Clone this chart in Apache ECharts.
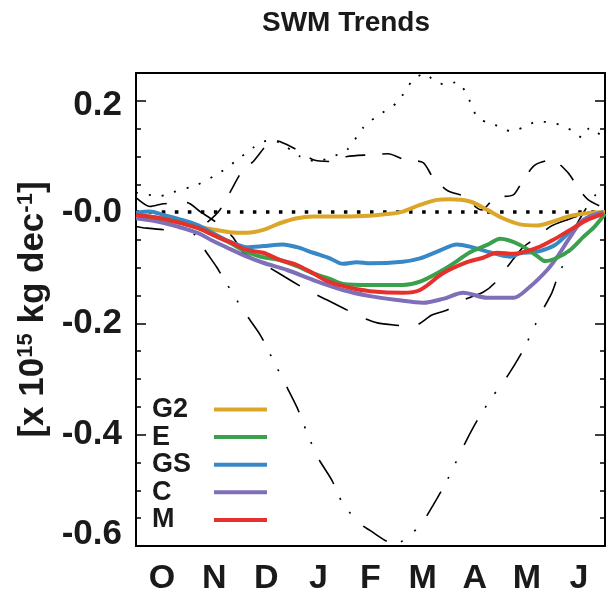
<!DOCTYPE html>
<html>
<head>
<meta charset="utf-8">
<title>SWM Trends</title>
<script src="https://cdn.jsdelivr.net/npm/echarts@6/dist/echarts.min.js"></script>
<style>
  html, body { margin: 0; padding: 0; background: #fff; }
  #chart { width: 608px; height: 596px; }
</style>
</head>
<body>
<div id="chart"></div>
<script>
// month labels (one band per month, Oct..Jun)
const months = ["O", "N", "D", "J", "F", "M", "A", "M", "J"];

// y tick labels
const yTicks = [-0.6, -0.4, -0.2, 0.0, 0.2];

// model trends: [month position, value]
const g2 = [[0,-0.008],[0.52,-0.012],[1.17,-0.026],[1.8,-0.036],[2.13,-0.037],[2.44,-0.032],[2.76,-0.020],[3.09,-0.011],[3.4,-0.008],[3.72,-0.008],[4.36,-0.007],[4.87,-0.003],[5.12,0.001],[5.45,0.013],[5.78,0.022],[6.02,0.023],[6.41,0.019],[6.74,0.004],[7.04,-0.011],[7.37,-0.022],[7.7,-0.024],[8.0,-0.017],[8.33,-0.007],[8.66,-0.002],[9,0.0]];
const e = [[0,-0.005],[0.52,-0.012],[1.17,-0.028],[1.48,-0.041],[1.8,-0.055],[2.13,-0.072],[2.44,-0.081],[2.76,-0.086],[3.09,-0.097],[3.4,-0.110],[3.72,-0.120],[3.97,-0.129],[4.49,-0.131],[5.12,-0.131],[5.45,-0.125],[5.89,-0.104],[6.16,-0.088],[6.41,-0.072],[6.74,-0.059],[6.99,-0.048],[7.37,-0.059],[7.7,-0.079],[7.85,-0.088],[8.08,-0.082],[8.33,-0.068],[8.58,-0.045],[8.81,-0.025],[9,-0.003]];
const gs = [[0,-0.001],[0.27,0.001],[0.52,-0.005],[0.84,-0.013],[1.17,-0.023],[1.48,-0.038],[1.8,-0.053],[2.13,-0.063],[2.44,-0.061],[2.82,-0.058],[3.09,-0.063],[3.4,-0.073],[3.72,-0.083],[3.97,-0.093],[4.24,-0.090],[4.49,-0.092],[5.12,-0.089],[5.45,-0.083],[5.78,-0.071],[6.16,-0.058],[6.41,-0.062],[6.74,-0.071],[7.18,-0.080],[7.37,-0.074],[7.7,-0.071],[8.04,-0.059],[8.33,-0.035],[8.66,-0.010],[8.97,0.0]];
const c = [[0,-0.011],[0.52,-0.019],[1.17,-0.037],[1.48,-0.052],[1.8,-0.066],[2.13,-0.080],[2.44,-0.091],[2.9,-0.104],[3.4,-0.122],[3.97,-0.140],[4.49,-0.151],[5.01,-0.158],[5.51,-0.163],[5.89,-0.156],[6.28,-0.145],[6.74,-0.154],[7.24,-0.154],[7.56,-0.134],[7.89,-0.104],[8.08,-0.081],[8.33,-0.045],[8.58,-0.014],[8.97,-0.001]];
const m = [[0,-0.005],[0.52,-0.012],[1.17,-0.028],[1.48,-0.041],[1.8,-0.054],[2.13,-0.068],[2.44,-0.073],[2.76,-0.086],[3.09,-0.095],[3.4,-0.110],[3.72,-0.126],[4.11,-0.136],[4.49,-0.142],[5.12,-0.145],[5.45,-0.140],[5.89,-0.110],[6.35,-0.090],[6.66,-0.082],[6.93,-0.073],[7.24,-0.075],[7.7,-0.064],[8.0,-0.050],[8.33,-0.032],[8.66,-0.014],[8.97,-0.003]];

// black reference curves
const obsMax = [[0,0.035],[0.46,0.029],[0.71,0.036],[1.17,0.049],[1.61,0.071],[2.0,0.098],[2.25,0.116],[2.51,0.128],[2.76,0.125],[3.15,0.100],[3.47,0.091],[3.72,0.098],[4.05,0.112],[4.36,0.152],[4.59,0.170],[5.01,0.197],[5.32,0.238],[5.55,0.249],[5.74,0.234],[5.97,0.229],[6.16,0.234],[6.35,0.211],[6.55,0.170],[6.74,0.161],[7.04,0.152],[7.18,0.145],[7.43,0.152],[7.70,0.163],[7.95,0.161],[8.20,0.155],[8.39,0.145],[8.56,0.134],[8.71,0.152],[8.91,0.139],[9,0.135]];
const obsHigh = [[0,-0.005],[0.52,-0.012],[0.98,-0.020],[1.23,-0.026],[1.36,-0.019],[1.61,0.004],[1.8,0.035],[2.05,0.076],[2.25,0.091],[2.48,0.118],[2.61,0.130],[2.76,0.127],[3.09,0.112],[3.4,0.094],[3.72,0.091],[4.05,0.100],[4.49,0.103],[4.84,0.105],[5.16,0.094],[5.51,0.089],[5.70,0.062],[5.99,0.038],[6.31,0.028],[6.51,0.010],[6.64,0.004],[6.89,0.026],[7.24,0.031],[7.43,0.058],[7.66,0.085],[7.98,0.094],[8.29,0.071],[8.48,0.044],[8.68,0.022],[8.97,0.008]];
const obsLow = [[0,0.026],[0.27,0.010],[0.52,0.015],[0.98,0.017],[1.23,0.001],[1.55,-0.019],[1.86,-0.045],[2.05,-0.072],[2.38,-0.090],[2.71,-0.108],[3.28,-0.140],[3.67,-0.158],[4.01,-0.174],[4.30,-0.188],[4.63,-0.199],[4.97,-0.203],[5.32,-0.205],[5.68,-0.185],[5.97,-0.176],[6.28,-0.158],[6.66,-0.144],[6.89,-0.127],[7.12,-0.099],[7.43,-0.063],[7.70,-0.045],[7.95,-0.026],[8.27,-0.014],[8.62,-0.003],[8.97,0.001]];
const obsMin = [[0,-0.026],[0.13,-0.028],[0.65,-0.032],[0.94,-0.028],[1.17,-0.045],[1.32,-0.068],[1.55,-0.099],[1.67,-0.118],[1.86,-0.147],[2.09,-0.181],[2.38,-0.220],[2.61,-0.262],[2.86,-0.308],[3.09,-0.351],[3.28,-0.396],[3.49,-0.441],[3.76,-0.482],[3.97,-0.524],[4.30,-0.560],[4.49,-0.572],[4.78,-0.590],[5.01,-0.596],[5.22,-0.582],[5.45,-0.564],[5.70,-0.527],[5.97,-0.482],[6.31,-0.416],[6.55,-0.374],[6.83,-0.333],[7.14,-0.293],[7.43,-0.248],[7.75,-0.185],[7.98,-0.145],[8.14,-0.104],[8.27,-0.086],[8.43,-0.028],[8.66,0.010],[8.87,0.037],[9,0.044]];
const zeroLine = [[0,0],[9,0]];

const FONT = '"Liberation Sans", Arial, Helvetica, sans-serif';
const INK = "#1a1a1a";

const chart = echarts.init(document.getElementById("chart"));

function blackLine(data, type, width) {
  return {
    type: "line", xAxisIndex: 2, yAxisIndex: 0, data: data,
    showSymbol: false, smooth: 0.25, silent: true,
    lineStyle: { color: "#000", width: width || 1.6, type: type, cap: "butt" }
  };
}
function modelLine(name, data, color) {
  return {
    name: name, type: "line", xAxisIndex: 2, yAxisIndex: 0, data: data,
    showSymbol: false, smooth: 0.3, color: color,
    lineStyle: { color: color, width: 4 }
  };
}

const frameLine = { show: true, onZero: false, lineStyle: { color: "#000", width: 2 } };
const yBase = { type: "value", min: -0.6, max: 0.25, splitLine: { show: false } };

chart.setOption({
  animation: false,
  title: {
    text: "SWM Trends", left: 257, top: 4,
    textStyle: { fontFamily: FONT, fontSize: 28, fontWeight: "bold", color: INK }
  },
  grid: { left: 136, right: 3, top: 73, bottom: 50 },
  legend: {
    orient: "vertical", left: 147, top: 391, align: "right",
    itemWidth: 53, itemHeight: 4, itemGap: 0.6, icon: "rect",
    data: ["G2", "E", "GS", "C", "M"],
    formatter: function (n) { return "{a|" + n + "}"; },
    textStyle: {
      rich: { a: { width: 57, align: "left", fontFamily: FONT, fontSize: 27, fontWeight: "bold", color: INK } }
    }
  },
  xAxis: [
    {
      type: "category", data: months, position: "bottom",
      axisLine: frameLine,
      axisTick: { inside: true, length: 9, interval: 0, lineStyle: { color: "#000", width: 1.5 } },
      axisLabel: { interval: 0, margin: 16, fontFamily: FONT, fontSize: 34, fontWeight: "bold", color: INK }
    },
    {
      type: "category", data: months, position: "top",
      axisLine: frameLine,
      axisTick: { inside: true, length: 9, interval: 0, lineStyle: { color: "#000", width: 1.5 } },
      axisLabel: { show: false }
    },
    { type: "value", min: 0, max: 9, show: false, axisLine: { onZero: false } }
  ],
  yAxis: [
    Object.assign({}, yBase, {
      position: "left", interval: 0.05,
      axisLine: frameLine,
      axisTick: { inside: true, length: 5, lineStyle: { color: "#000", width: 1.5 } },
      axisLabel: { show: false }
    }),
    Object.assign({}, yBase, {
      position: "left", interval: 0.2,
      axisLine: { show: false, onZero: false },
      axisTick: { inside: true, length: 10, lineStyle: { color: "#000", width: 1.5 } },
      axisLabel: {
        margin: 14, fontFamily: FONT, fontSize: 35, fontWeight: "bold", color: INK,
        formatter: function (v) {
          const hit = yTicks.find(function (t) { return Math.abs(t - v) < 1e-6; });
          if (hit === undefined) return "";
          if (hit === -0.6) return "{lo|-0.6}";
          if (hit === 0.2) return "{hi|0.2}";
          if (hit === 0) return "-0.0";
          return hit.toFixed(1);
        },
        rich: {
          lo: { fontFamily: FONT, fontSize: 35, fontWeight: "bold", color: INK, padding: [0, 0, 24, 0] },
          hi: { fontFamily: FONT, fontSize: 35, fontWeight: "bold", color: INK, padding: [10, 0, 0, 0] }
        }
      },
      name: "[x 10{sup|15} kg dec{sup|-1}]",
      nameLocation: "middle", nameRotate: 90, nameGap: 82,
      nameTextStyle: {
        fontFamily: FONT, fontSize: 35, fontWeight: "bold", color: INK,
        rich: { sup: { fontFamily: FONT, fontSize: 22, fontWeight: "bold", color: INK, verticalAlign: "top", padding: [0, 0, 14, 0] } }
      }
    }),
    Object.assign({}, yBase, {
      position: "right", interval: 0.05,
      axisLine: frameLine,
      axisTick: { inside: true, length: 5, lineStyle: { color: "#000", width: 1.5 } },
      axisLabel: { show: false }
    }),
    Object.assign({}, yBase, {
      position: "right", interval: 0.2,
      axisLine: { show: false, onZero: false },
      axisTick: { inside: true, length: 10, lineStyle: { color: "#000", width: 1.5 } },
      axisLabel: { show: false }
    })
  ],
  series: [
    blackLine(zeroLine, [3.5, 9.5], 3.5),
    blackLine(obsMax, [2, 11], 1.8),
    blackLine(obsHigh, [20, 17]),
    blackLine(obsLow, [34, 20]),
    blackLine(obsMin, [28, 15, 2, 15, 2, 18]),
    modelLine("G2", g2, "#DCA628"),
    modelLine("GS", gs, "#3888C8"),
    modelLine("C", c, "#7F6FB8"),
    modelLine("E", e, "#3BA04C"),
    modelLine("M", m, "#E5302C")
  ]
});
</script>
</body>
</html>
